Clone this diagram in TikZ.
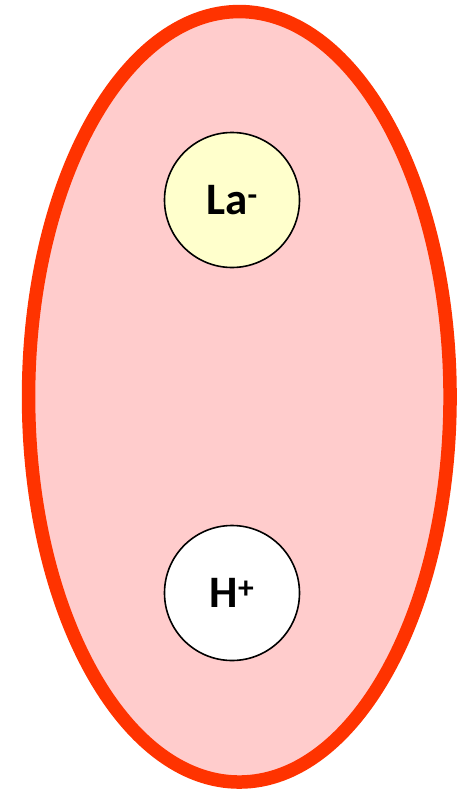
\documentclass[tikz,border=0pt]{standalone}
\usepackage{fontspec}
\setmainfont{Carlito}
\usetikzlibrary{shapes.geometric}
\definecolor{cellred}{HTML}{FF3300}
\definecolor{cellfill}{HTML}{FFCCCC}
\definecolor{lafill}{HTML}{FFFFCC}
\tikzset{
  ion/.style={circle, draw=black, line width=1.6pt, minimum size=135pt, inner sep=0pt,
    font=\fontsize{45}{52}\selectfont\bfseries},
  cell/.style={ellipse, draw=cellred, fill=cellfill, line width=13.5pt,
    minimum width=421.5pt, minimum height=770.5pt, inner sep=0pt}
}
\begin{document}
\begin{tikzpicture}[x=1pt,y=-1pt]
\useasboundingbox (0,0) rectangle (464,790);
\node[cell] (cell) at (239.3,396.8) {};
\node[ion, fill=lafill] (la) at (232,200) {La\textsuperscript{-}};
\node[ion, fill=white] (h) at (232,593) {H\textsuperscript{+}};
\end{tikzpicture}
\end{document}
